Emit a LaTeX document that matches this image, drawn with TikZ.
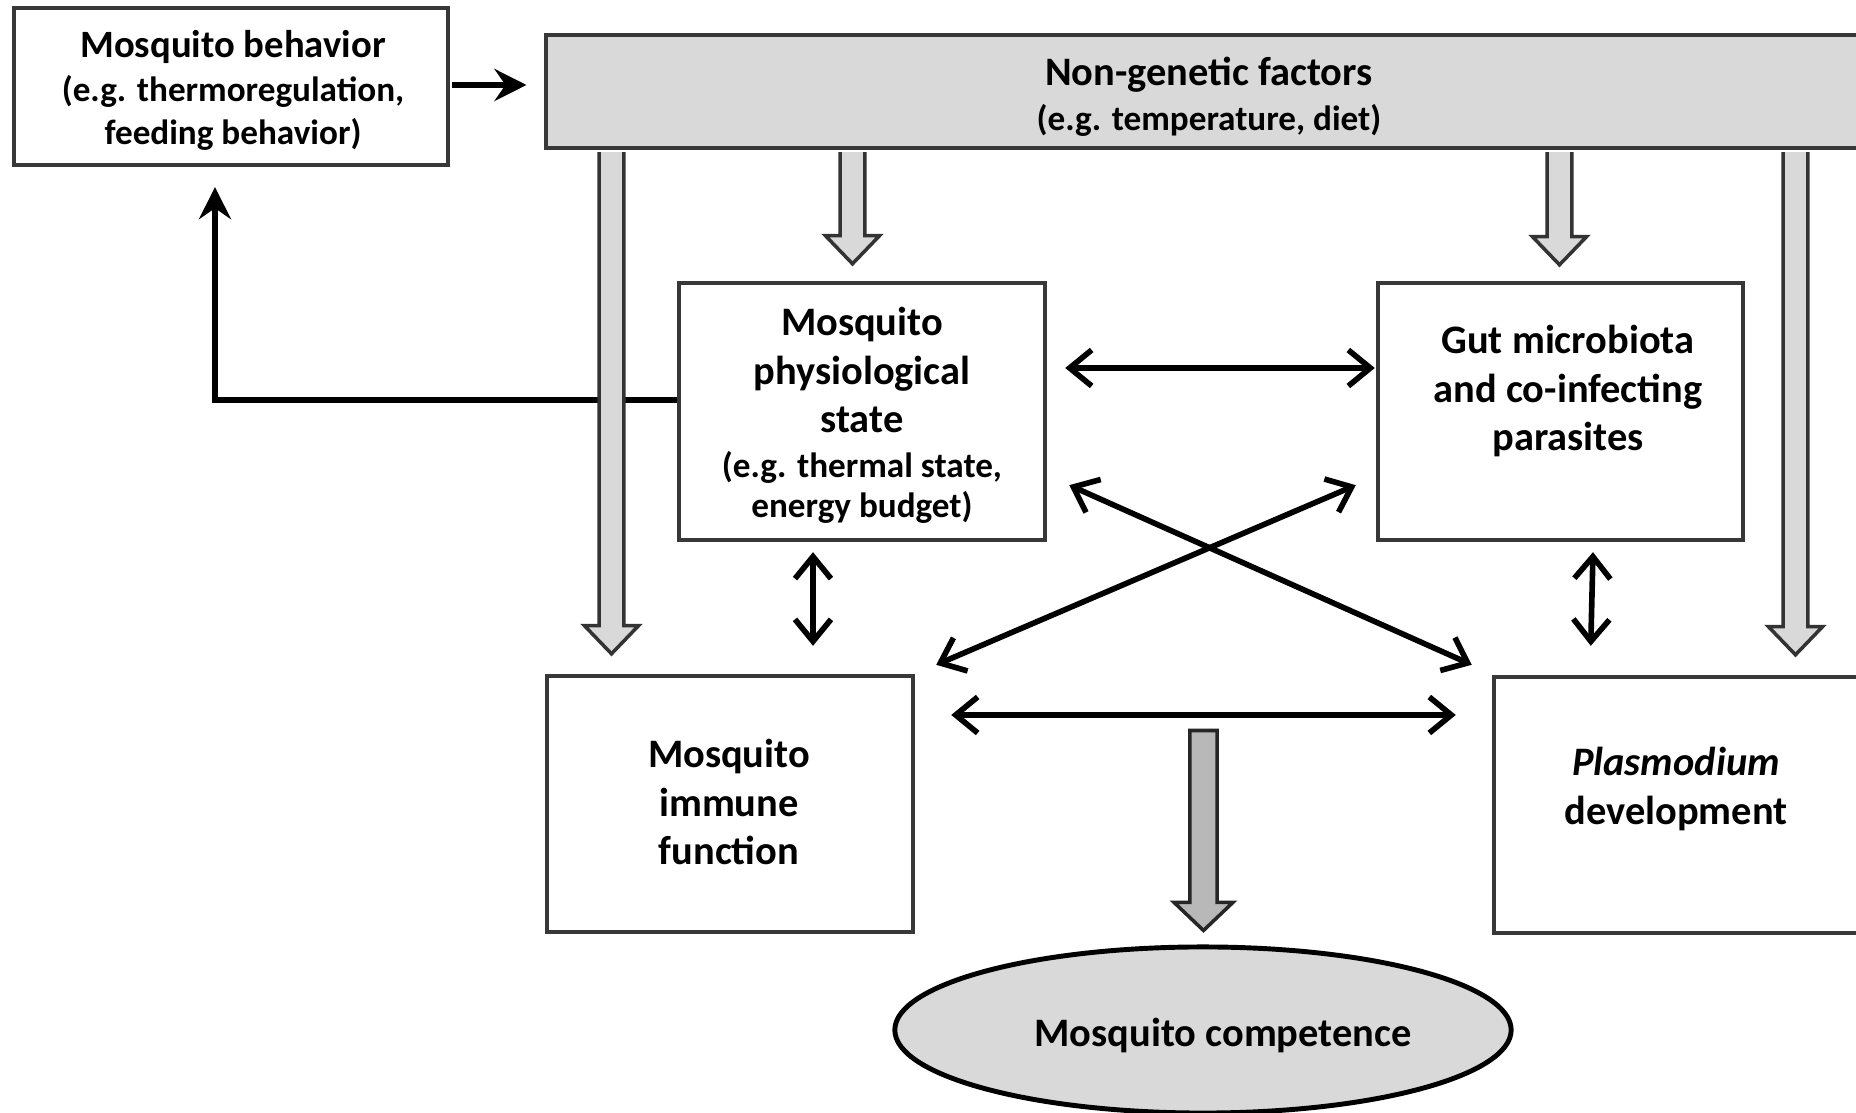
\documentclass[tikz,border=0pt]{standalone}
\usepackage{fontspec}
\setmainfont{Carlito}
\usetikzlibrary{arrows.meta,calc,shapes.geometric}
\newcommand{\hollowarrow}[3][]{%
  \filldraw[hollow,#1] let \p1=(#2), \p2=(#3) in
    (\x1-3.5pt,\y1) -- (\x1-3.5pt,\y2+8pt) -- (\x1-7.7pt,\y2+8pt) -- (\x1,\y2)
    -- (\x1+7.7pt,\y2+8pt) -- (\x1+3.5pt,\y2+8pt) -- (\x1+3.5pt,\y1);}
\newcommand{\bigdownarrow}[3][]{%
  \filldraw[bigarr,#1] let \p1=(#2), \p2=(#3) in
    (\x1-3.85pt,\y1) -- (\x1-3.85pt,\y2+8pt) -- (\x1-8.4pt,\y2+8pt) -- (\x1,\y2)
    -- (\x1+8.4pt,\y2+8pt) -- (\x1+3.85pt,\y2+8pt) -- (\x1+3.85pt,\y1) -- cycle;}
\begin{document}
\begin{tikzpicture}[x=0.01cm,y=-0.01cm,
  box/.style={draw=black!78,line width=1.2pt,fill=white,rectangle,inner sep=0pt},
  ttl/.style={align=center,font=\fontsize{11.5}{13.9}\selectfont\bfseries,inner sep=0pt},
  sub/.style={align=center,font=\fontsize{10}{11.4}\selectfont\bfseries,inner sep=0pt},
  arr/.style={-{Stealth[length=3.2mm,width=3.2mm,inset=1.1mm]},line width=1.6pt},
  dbl/.style={{Straight Barb[length=2.2mm,width=3.6mm]}-{Straight Barb[length=2.2mm,width=3.6mm]},line width=1.6pt},
  hollow/.style={draw=black!80,fill=black!15,line width=1pt,line join=miter},
  bigarr/.style={draw=black!85,fill=black!28,line width=1pt,line join=miter}]
\useasboundingbox (0,0) rectangle (1856,1113);

% boxes
\node[box,minimum width=4.34cm,minimum height=1.57cm] (beh) at (231,86.5) {};
\node[box,fill=black!15,minimum width=13.54cm,minimum height=1.13cm] (ng) at (1223,91.5) {};
\node[box,minimum width=3.66cm,minimum height=2.57cm] (phys) at (862,411.5) {};
\node[box,minimum width=3.65cm,minimum height=2.57cm] (gut) at (1560.5,411.5) {};
\node[box,minimum width=3.66cm,minimum height=2.56cm] (imm) at (730,804) {};
\node[box,minimum width=4.06cm,minimum height=2.56cm] (plas) at (1697,805) {};
\node[draw=black,line width=1.4pt,fill=black!15,ellipse,minimum width=6.16cm,minimum height=1.66cm,inner sep=0pt] (comp) at (1203,1030) {};

% texts
\node[ttl,font=\fontsize{11}{12}\selectfont\bfseries] (behT) at (233,47) {Mosquito behavior};
\node[sub,font=\fontsize{10}{12}\selectfont\bfseries] (behS) at (233,113) {(e.g. thermoregulation,\\feeding behavior)};
\node[ttl] (ngT) at (1209,75) {Non-genetic factors};
\node[sub] (ngS) at (1209,120) {(e.g. temperature, diet)};
\node[ttl] (physT) at (862,370) {Mosquito\\physiological\\state};
\node[sub] (physS) at (862,487) {(e.g. thermal state,\\energy budget)};
\node[ttl] (gutT) at (1568,391) {Gut microbiota\\and co-infecting\\parasites};
\node[ttl] (immT) at (729,802) {Mosquito\\immune\\function};
\node[ttl] (plasT) at (1676,789) {\textit{Plasmodium}\\development};
\node[ttl] (compT) at (1223,1035) {Mosquito competence};

% behavior -> non-genetic factors
\draw[arr] ($(beh.east)+(2,-1.5)$) -- ($(beh.east -| ng.west)+(-17,-1.5)$);
% physiological state -> behavior (feedback)
\draw[arr] ($(phys.west)+(0,-11.5)$) -| ($(beh.south)+(-16,20)$);

% hollow arrows from non-genetic factors
\hollowarrow{$(ng.south west)+(68,2)$}{$(imm.north west)+(67,-20)$}
\hollowarrow{$(ng.south west)+(309,2)$}{$(phys.north)+(-7,-17)$}
\hollowarrow{$(ng.south west)+(1016,2)$}{$(gut.north)+(1.5,-16)$}
\hollowarrow{$(ng.south west)+(1252,2)$}{$(plas.north west)+(304,-20)$}

% interactions
\draw[dbl] ($(phys.east)+(18,-43.5)$) -- ($(gut.west)+(-1,-43.5)$);
\draw[dbl] ($(phys.south)+(-49,10)$) -- ($(imm.north)+(83,-28)$);
\draw[dbl] ($(gut.south)+(32.5,10)$) -- ($(plas.north west)+(99,-29)$);
\draw[dbl] ($(imm.east)+(36,-89)$) -- ($(plas.west)+(-36,-90)$);
\draw[dbl] ($(phys.south east)+(22,-57)$) -- ($(plas.north west)+(-20,-10)$);
\draw[dbl] ($(gut.south west)+(-20,-57)$) -- ($(imm.north east)+(21,-9)$);

% to mosquito competence
\bigdownarrow{$($(imm.east)!0.5!(plas.west)$)+(0,-74)$}{$(comp.north)+(0,-14)$}
\end{tikzpicture}
\end{document}
